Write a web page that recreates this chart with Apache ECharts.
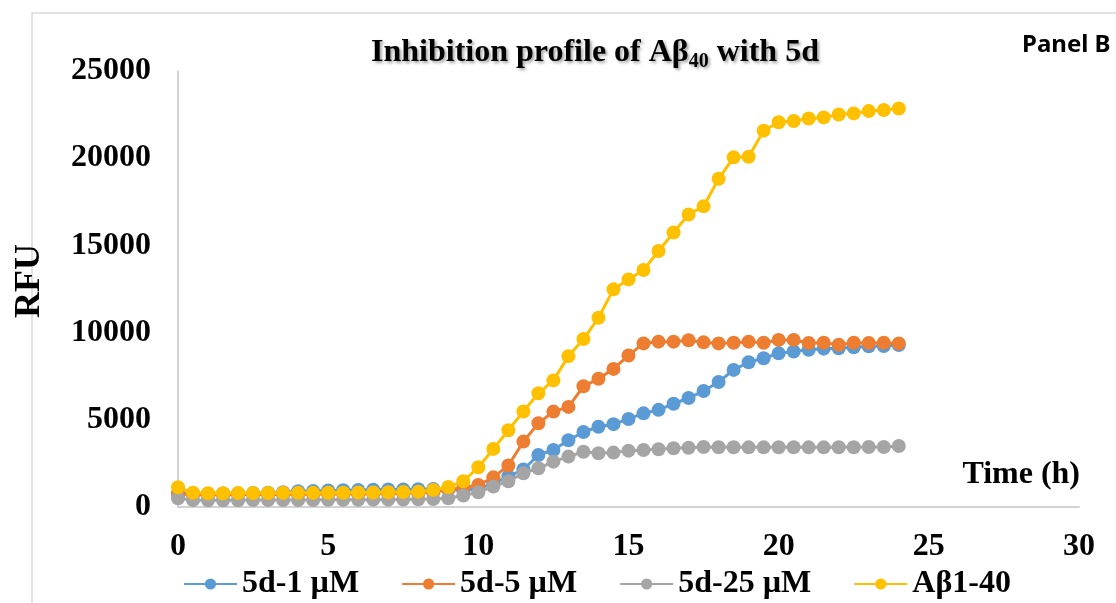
<!DOCTYPE html>
<html>
<head>
<meta charset="utf-8">
<script src="https://cdn.jsdelivr.net/npm/echarts@6/dist/echarts.min.js"></script>
<style>
  html, body { margin: 0; padding: 0; background: #fff; }
  #chart { width: 1116px; height: 603px; }
</style>
</head>
<body>
<div id="chart"></div>
<script>
// Sampling times (h)
const hours = [0, 0.5, 1, 1.5, 2, 2.5, 3, 3.5, 4, 4.5, 5, 5.5, 6, 6.5, 7, 7.5, 8, 8.5,
  9, 9.5, 10, 10.5, 11, 11.5, 12, 12.5, 13, 13.5, 14, 14.5, 15, 15.5, 16, 16.5,
  17, 17.5, 18, 18.5, 19, 19.5, 20, 20.5, 21, 21.5, 22, 22.5, 23, 23.5, 24];

// Fluorescence readings (RFU)
const rfu5d1 = [780, 760, 760, 770, 780, 800, 820, 850, 900, 920, 950, 960, 980, 990, 1000, 1010, 1020, 1030,
  1000, 950, 1050, 1350, 1750, 2150, 2980, 3270, 3830, 4300, 4600, 4750, 5050, 5370, 5570, 5920,
  6250, 6650, 7170, 7860, 8300, 8530, 8810, 8920, 9020, 9080, 9100, 9160, 9220, 9230, 9290];

const rfu5d5 = [750, 700, 700, 700, 710, 710, 720, 720, 730, 730, 740, 740, 750, 760, 770, 780, 800, 850,
  1000, 1100, 1260, 1700, 2380, 3750, 4800, 5470, 5740, 6920, 7350, 7920, 8690, 9380, 9480, 9480,
  9560, 9440, 9380, 9420, 9480, 9420, 9580, 9580, 9400, 9420, 9300, 9420, 9400, 9420, 9380];

const rfu5d25 = [500, 400, 390, 390, 390, 400, 400, 400, 400, 400, 410, 410, 410, 420, 420, 430, 440, 460,
  500, 660, 850, 1170, 1480, 1930, 2220, 2600, 2890, 3170, 3080, 3120, 3230, 3270, 3310, 3370,
  3400, 3440, 3430, 3430, 3420, 3420, 3430, 3430, 3420, 3420, 3430, 3430, 3440, 3440, 3500];

const rfuAb40 = [1130, 820, 790, 790, 800, 800, 800, 810, 810, 810, 820, 820, 830, 830, 850, 860, 880, 980,
  1150, 1480, 2280, 3330, 4400, 5480, 6520, 7260, 8650, 9630, 10850, 12480, 13050, 13590, 14680, 15740,
  16770, 17240, 18820, 20050, 20080, 21580, 22060, 22130, 22280, 22340, 22510, 22570, 22700, 22760, 22850];

const seriesNames = ['5d-1 µM', '5d-5 µM', '5d-25 µM', 'Aβ1-40'];
const seriesColors = ['#5B9BD5', '#ED7D31', '#A5A5A5', '#FFC000'];
const seriesValues = [rfu5d1, rfu5d5, rfu5d25, rfuAb40];

const serif = '"Liberation Serif", "Times New Roman", serif';
const shadow = { textShadowColor: 'rgba(0,0,0,0.35)', textShadowBlur: 3, textShadowOffsetX: 2, textShadowOffsetY: 2 };

const chart = echarts.init(document.getElementById('chart'), null, { renderer: 'canvas' });

chart.setOption({
  backgroundColor: '#ffffff',
  animation: false,
  grid: { left: 178, right: 37, top: 71, bottom: 96, containLabel: false },
  xAxis: {
    type: 'value', min: 0, max: 30, interval: 5,
    axisLine: { show: true, lineStyle: { color: '#C4C4C4', width: 1.5 } },
    axisTick: { show: false },
    splitLine: { show: false },
    axisLabel: { color: '#000', fontFamily: serif, fontWeight: 'bold', fontSize: 32, margin: 24 }
  },
  yAxis: {
    type: 'value', min: 0, max: 25000, interval: 5000,
    axisLine: { show: true, lineStyle: { color: '#C4C4C4', width: 1.5 } },
    axisTick: { show: false },
    splitLine: { show: false },
    axisLabel: {
      color: '#000', fontFamily: serif, fontWeight: 'bold', fontSize: 32, margin: 27,
      formatter: v => String(v)
    }
  },
  legend: {
    left: 178, top: 563,
    itemWidth: 53, itemHeight: 14, itemGap: 42,
    textStyle: { color: '#000', fontFamily: serif, fontWeight: 'bold', fontSize: 32 },
    data: seriesNames
  },
  series: seriesNames.map((name, i) => ({
    name: name,
    type: 'line',
    data: hours.map((h, k) => [h, seriesValues[i][k]]),
    symbol: 'circle',
    symbolSize: 14,
    lineStyle: { color: seriesColors[i], width: 3 },
    itemStyle: { color: seriesColors[i] },
    z: 2 + i
  })),
  graphic: [
    {
      type: 'rect', silent: true, z: -1,
      shape: { x: 32, y: 13, width: 1200, height: 700 },
      style: { fill: 'none', stroke: '#D9D9D9', lineWidth: 1.5 }
    },
    {
      type: 'text', x: 595, y: 53, z: 10,
      style: Object.assign({
        text: '{a|Inhibition profile of Aβ}{s|40}{a| with 5d}',
        textAlign: 'center', textVerticalAlign: 'middle',
        font: 'bold 32px ' + serif, fill: '#000',
        rich: {
          a: Object.assign({ font: 'bold 32px ' + serif, fill: '#000', lineHeight: 38, verticalAlign: 'middle' }, shadow),
          s: Object.assign({ font: 'bold 20px ' + serif, fill: '#000', lineHeight: 38, verticalAlign: 'bottom' }, shadow)
        }
      }, shadow)
    },
    {
      type: 'text', x: 1022, y: 45, z: 10,
      style: {
        text: 'Panel B', textAlign: 'left', textVerticalAlign: 'middle',
        font: 'bold 24px "Noto Sans", "Liberation Sans", sans-serif', fill: '#000'
      }
    },
    {
      type: 'text', x: 1080, y: 475, z: 10,
      style: {
        text: 'Time (h)', textAlign: 'right', textVerticalAlign: 'middle',
        font: 'bold 32px ' + serif, fill: '#000'
      }
    },
    {
      type: 'text', x: 30, y: 281, rotation: Math.PI / 2, z: 10,
      style: {
        text: 'RFU', textAlign: 'center', textVerticalAlign: 'middle',
        font: 'bold 36px ' + serif, fill: '#000'
      }
    }
  ]
});
</script>
</body>
</html>
